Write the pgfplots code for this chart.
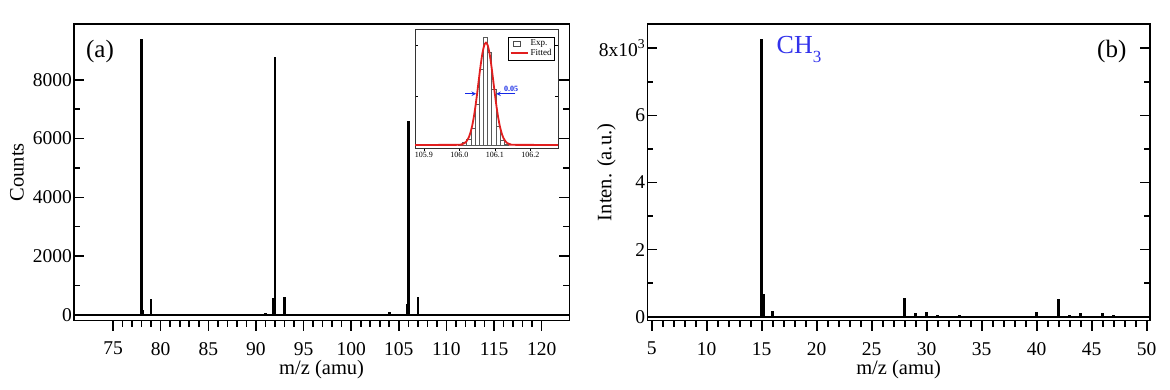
\documentclass[border=0pt]{standalone}
\usepackage{fontspec}
\setmainfont{Liberation Serif}
\usepackage{pgfplots}
\pgfplotsset{compat=1.18}
\definecolor{chblue}{RGB}{50,50,235}
\definecolor{fitred}{RGB}{225,30,30}
\definecolor{arrblue}{RGB}{20,40,230}
\pgfplotsset{
  myax/.style={
    scale only axis,
    axis line style={line width=1.5pt, black},
    tick style={line width=1.6pt, black},
    xtick align=outside, ytick align=inside,
    xtick pos=left, ytick pos=both,
    major tick length=10pt, minor tick length=6pt,
    tick label style={font=\rmfamily\fontsize{19.5}{22}\selectfont},
    xticklabel style={yshift=-8pt},
    yticklabel style={inner sep=2pt},
    scaled ticks=false,
    /pgf/number format/assume math mode=true,
    /pgf/number format/1000 sep={},
    clip=true,
  }
}
\begin{document}
\begin{tikzpicture}
\useasboundingbox (0,0) rectangle (1170pt,390pt);
% ---------------- panel (a)
\begin{axis}[myax,
  at={(74pt,69.3pt)}, anchor=south west,
  width=495.3pt, height=296.7pt,
  xmin=70.9, xmax=122.9, ymin=-200, ymax=9900,
  xtick={75,80,...,120}, minor x tick num=4,
  ytick={0,2000,...,8000}, minor y tick num=1,
  xlabel={m/z (amu)}, ylabel={Counts},
  every axis x label/.style={at={(axis description cs:0.5,-0.165)}, anchor=center, font=\rmfamily\fontsize{20.5}{24}\selectfont},
  every axis y label/.style={at={(axis description cs:-0.115,0.5)}, rotate=90, anchor=center, font=\rmfamily\fontsize{20.5}{24}\selectfont},
]
\addplot[ycomb, black, line width=2.6pt] coordinates {
 (78,9387) (78.15,150) (79,535) (91,60) (91.85,565) (92,8763) (93,613)
 (94,35) (104,90) (105.88,375) (106,6606) (107,590)
};
\addplot[black, line width=2pt] coordinates {(70.9,0) (122.9,0)};
\node at (axis description cs:0.0525,0.909) {\fontsize{25}{30}\selectfont (a)};
\end{axis}
% ---------------- inset
\begin{axis}[
  at={(415pt,242pt)}, anchor=south west, scale only axis,
  width=143pt, height=118.7pt,
  xmin=105.875, xmax=106.278, ymin=-0.03, ymax=1.13,
  xtick={105.9,106.0,106.1,106.2}, ytick={0.48,0.97}, yticklabels={},
  xtick align=outside, ytick align=inside, xtick pos=left, ytick pos=both,
  major tick length=3pt,
  tick style={line width=0.6pt, black},
  axis line style={line width=0.8pt, black!80},
  axis background/.style={fill=white},
  xticklabel style={font=\rmfamily\fontsize{8}{9}\selectfont, inner sep=1pt,
    /pgf/number format/.cd, fixed, fixed zerofill, precision=1, assume math mode=true},
  legend style={at={(axis description cs:0.979,0.938)}, anchor=north east,
    font=\rmfamily\fontsize{9}{9}\selectfont, inner sep=1pt, row sep=-2pt,
    draw=black, line width=0.8pt, cells={anchor=west}},
]
\addplot[ybar interval, draw=black!65, fill=white, line width=0.5pt, forget plot]
 coordinates {
 (105.9973,0.010) (106.0090,0.026) (106.0207,0.052) (106.0324,0.161)
 (106.0441,0.397) (106.0558,0.742) (106.0675,1.050) (106.0792,0.906)
 (106.0909,0.542) (106.1026,0.187) (106.1143,0.042) (106.1260,0.010)
 (106.1377,0)
};
\addlegendimage{legend image code/.code={\draw[black!70, fill=white, line width=0.7pt] (3pt,-2.5pt) rectangle (10pt,2.5pt);}}
\addlegendentry{Exp.}
\addplot[fitred, line width=1.8pt, smooth] coordinates {
 (105.875,0) (105.995,0.0008) (106.005,0.0044) (106.015,0.0184) (106.020,0.0349)
 (106.025,0.0624) (106.030,0.1058) (106.035,0.1695) (106.040,0.2569)
 (106.045,0.3684) (106.050,0.4999) (106.055,0.6416) (106.060,0.7790)
 (106.065,0.8950) (106.070,0.9726) (106.075,1.0) (106.080,0.9726)
 (106.085,0.8950) (106.090,0.7790) (106.095,0.6416) (106.100,0.4999)
 (106.105,0.3684) (106.110,0.2569) (106.115,0.1695) (106.120,0.1058)
 (106.125,0.0624) (106.130,0.0349) (106.135,0.0184) (106.145,0.0044)
 (106.155,0.0008) (106.278,0)
};
\addlegendentry{Fitted}
\draw[arrblue, line width=1pt, -stealth] (axis cs:106.016,0.5) -- (axis cs:106.047,0.5);
\draw[arrblue, line width=1pt, -stealth] (axis cs:106.158,0.5) -- (axis cs:106.104,0.5);
\node[arrblue, font=\rmfamily\bfseries\fontsize{8}{9}\selectfont, anchor=base] at (axis cs:106.146,0.52) {0.05};
\end{axis}
% ---------------- panel (b)
\begin{axis}[myax,
  at={(647.3pt,69.3pt)}, anchor=south west,
  width=502.7pt, height=296.7pt,
  xmin=4.6, xmax=50.3, ymin=-120, ymax=8724,
  xtick={5,10,...,50}, minor x tick num=4,
  ytick={0,2000,...,8000}, yticklabels={0,2,4,6,8x10\textsuperscript{3}},
  minor y tick num=1,
  xlabel={m/z (amu)}, ylabel={Inten. (a.u.)},
  every axis x label/.style={at={(axis description cs:0.5,-0.165)}, anchor=center, font=\rmfamily\fontsize{20.5}{24}\selectfont},
  every axis y label/.style={at={(axis description cs:-0.0815,0.5)}, rotate=90, anchor=center, font=\rmfamily\fontsize{20.5}{24}\selectfont},
]
\addplot[ycomb, black, line width=2.6pt] coordinates {
 (15,8268) (15.15,666) (16,180) (28,567) (29,100) (30,130) (31,60) (33,60)
 (40,130) (42,517) (43,50) (44,100) (46,120) (47,40)
};
\addplot[black, line width=2pt] coordinates {(4.6,0) (50.3,0)};
\node at (axis description cs:0.924,0.909) {\fontsize{25}{30}\selectfont (b)};
\node[anchor=base west, text=chblue, inner sep=0pt] at (axis description cs:0.257,0.901)
  {\fontsize{26}{30}\selectfont CH\raisebox{-9pt}{\fontsize{17}{17}\selectfont 3}};
\end{axis}
\end{tikzpicture}
\end{document}
